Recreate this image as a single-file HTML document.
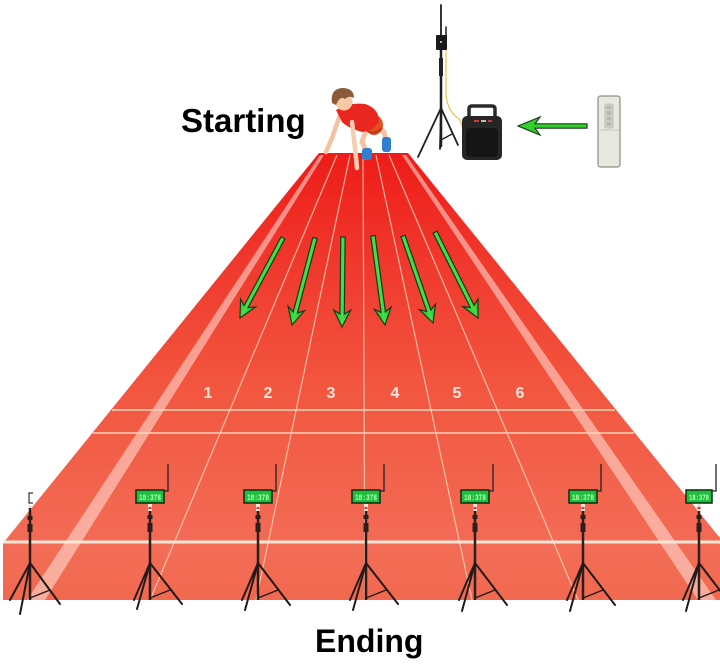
<!DOCTYPE html>
<html>
<head>
<meta charset="utf-8">
<style>
  html, body { margin: 0; padding: 0; background: #ffffff; }
  svg { display: block; }
  .lbl { font-family: "Liberation Sans", "DejaVu Sans", sans-serif; font-weight: bold; fill: #000; }
  .num { font-family: "Liberation Sans", "DejaVu Sans", sans-serif; font-weight: bold; fill: #fbe4da; font-size: 16px; }
  .disp { font-family: "Liberation Mono", "DejaVu Sans Mono", monospace; font-size: 8px; fill: #b8ffbe; font-weight: bold; }
</style>
</head>
<body>
<svg width="720" height="668" viewBox="0 0 720 668" xmlns="http://www.w3.org/2000/svg">
  <defs>
    <linearGradient id="trk" x1="0" y1="153" x2="0" y2="542" gradientUnits="userSpaceOnUse">
      <stop offset="0" stop-color="#ee1c18"/>
      <stop offset="0.3" stop-color="#f03a2e"/>
      <stop offset="0.6" stop-color="#f2563f"/>
      <stop offset="1" stop-color="#f36b55"/>
    </linearGradient>
    <linearGradient id="front" x1="0" y1="542" x2="0" y2="600" gradientUnits="userSpaceOnUse">
      <stop offset="0" stop-color="#f36d57"/>
      <stop offset="1" stop-color="#f1694f"/>
    </linearGradient>
    <linearGradient id="grn" x1="0" y1="0" x2="1" y2="0">
      <stop offset="0" stop-color="#1fb52a"/>
      <stop offset="0.5" stop-color="#46e04a"/>
      <stop offset="1" stop-color="#1fb52a"/>
    </linearGradient>
  </defs>

  <rect x="0" y="0" width="720" height="668" fill="#ffffff"/>

  <!-- Track top surface -->
  <polygon points="319,153 408,153 720,538 720,542 4,542" fill="url(#trk)"/>
  <!-- Front face -->
  <rect x="3" y="542" width="717" height="58" fill="url(#front)"/>

  <!-- Outer light stripes -->
  <polygon points="320,155 324,155 45,600 27,600" fill="#ffe4da" fill-opacity="0.55"/>
  <polygon points="402,155 406,155 716,600 698,600" fill="#ffe4da" fill-opacity="0.55"/>

  <!-- Lane lines -->
  <g stroke="#ffd8bc" stroke-opacity="0.8" stroke-width="1.2" fill="none">
    <line x1="337" y1="155" x2="150" y2="600"/>
    <line x1="350" y1="155" x2="256" y2="600"/>
    <line x1="363" y1="155" x2="365" y2="600"/>
    <line x1="376" y1="155" x2="472" y2="600"/>
    <line x1="389" y1="155" x2="578" y2="600"/>
  </g>

  <!-- Horizontal lines -->
  <line x1="112" y1="410" x2="615" y2="410" stroke="#fcd2b6" stroke-width="1.5"/>
  <line x1="93" y1="433" x2="634" y2="433" stroke="#fcd2b6" stroke-width="1.5"/>
  <line x1="3" y1="542" x2="720" y2="542" stroke="#fde6d6" stroke-width="3"/>

  <!-- Lane numbers -->
  <text class="num" x="208" y="398" text-anchor="middle">1</text>
  <text class="num" x="268" y="398" text-anchor="middle">2</text>
  <text class="num" x="331" y="398" text-anchor="middle">3</text>
  <text class="num" x="395" y="398" text-anchor="middle">4</text>
  <text class="num" x="457" y="398" text-anchor="middle">5</text>
  <text class="num" x="520" y="398" text-anchor="middle">6</text>

  <!-- Track arrows -->
  <g fill="url(#grn)" stroke="#183818" stroke-width="1.2" stroke-linejoin="miter">
    <polygon transform="translate(240,318) rotate(28.2)" points="0,0 -8.5,-17 -2.2,-13 -2.2,-91 2.2,-91 2.2,-13 8.5,-17"/>
    <polygon transform="translate(292,325) rotate(14.8)" points="0,0 -8.5,-17 -2.2,-13 -2.2,-90 2.2,-90 2.2,-13 8.5,-17"/>
    <polygon transform="translate(342,327) rotate(0.6)" points="0,0 -8.5,-17 -2.2,-13 -2.2,-90 2.2,-90 2.2,-13 8.5,-17"/>
    <polygon transform="translate(385,325) rotate(-7.7)" points="0,0 -8.5,-17 -2.2,-13 -2.2,-90 2.2,-90 2.2,-13 8.5,-17"/>
    <polygon transform="translate(433,323) rotate(-19)" points="0,0 -8.5,-17 -2.2,-13 -2.2,-92 2.2,-92 2.2,-13 8.5,-17"/>
    <polygon transform="translate(478,318) rotate(-26.6)" points="0,0 -8.5,-17 -2.2,-13 -2.2,-96 2.2,-96 2.2,-13 8.5,-17"/>
  </g>

  <!-- Runner -->
  <g>
    <!-- back leg -->
    <path d="M374,124 L384,132 L386,142" stroke="#f3c2a0" stroke-width="5" fill="none" stroke-linecap="round"/>
    <rect x="382" y="137" width="9" height="15" rx="3" fill="#2f7fd0"/>
    <!-- front leg -->
    <path d="M366,130 L362,142 L366,150" stroke="#f3c2a0" stroke-width="5" fill="none" stroke-linecap="round"/>
    <rect x="362" y="148" width="10" height="12" rx="3" fill="#2f7fd0"/>
    <!-- shorts -->
    <ellipse cx="374" cy="125" rx="9" ry="10" fill="#e2501e"/>
    <path d="M366,130 Q374,136 382,128" stroke="#c0341a" stroke-width="2" fill="none"/>
    <!-- left arm -->
    <path d="M340,115 L332,138 L326,152" stroke="#f3c2a0" stroke-width="4.5" fill="none" stroke-linecap="round"/>
    <!-- shirt -->
    <path d="M336,110 Q350,102 365,104 Q378,108 379,120 Q376,130 362,132 Q348,128 342,122 Z" fill="#ea2620"/>
    <!-- right arm -->
    <path d="M352,122 L355,148 L357,168" stroke="#f6cdb0" stroke-width="4.5" fill="none" stroke-linecap="round"/>
    <!-- head -->
    <circle cx="344" cy="102" r="8.5" fill="#f6c8a4"/>
    <path d="M332,103 Q330,89 342,88 Q354,88 354,98 Q349,95 345,99 Q340,95 336,105 Z" fill="#8a5a3a"/>
  </g>

  <!-- Top antenna tripod -->
  <g stroke="#1e1e1e" fill="none" stroke-linecap="round">
    <line x1="441" y1="5" x2="441" y2="36" stroke-width="1.8"/>
    <line x1="446" y1="27" x2="446" y2="36" stroke-width="1.5"/>
    <line x1="441" y1="50" x2="441" y2="146" stroke-width="2.5"/>
    <line x1="441" y1="108" x2="418" y2="157" stroke-width="1.8"/>
    <line x1="441" y1="108" x2="440" y2="149" stroke-width="1.8"/>
    <line x1="441" y1="108" x2="458" y2="145" stroke-width="1.8"/>
    <line x1="441" y1="140" x2="452" y2="134" stroke-width="1.3"/>
  </g>
  <rect x="439" y="58" width="4" height="18" fill="#222"/>
  <rect x="436" y="35" width="11" height="15" rx="1" fill="#1a1a1a"/>
  <circle cx="441" cy="42" r="1" fill="#ddd"/>
  <path d="M446,50 L446,95 Q448,112 458,118 Q464,124 463,140" stroke="#e6c85a" stroke-width="1.3" fill="none"/>

  <!-- Speaker -->
  <path d="M469,118 L469,109 Q469,106 472,106 L492,106 Q495,106 495,109 L495,118" stroke="#2a2a2a" stroke-width="3.5" fill="none"/>
  <rect x="462" y="116" width="40" height="44" rx="5" fill="#262626"/>
  <rect x="466" y="128" width="32" height="29" rx="4" fill="#151515"/>
  <rect x="474" y="120" width="5" height="2" fill="#d03a30"/>
  <rect x="481" y="120" width="5" height="2" fill="#bbb"/>
  <rect x="488" y="120" width="4" height="2" fill="#d03a30"/>

  <!-- Left-pointing arrow -->
  <polygon transform="translate(518,126) rotate(90)" points="0,0 -9,-22 -2.2,-17 -2.2,-69 2.2,-69 2.2,-17 9,-22" fill="#32d02a" stroke="#1d3a1a" stroke-width="1.2"/>

  <!-- Remote -->
  <rect x="598" y="96" width="22" height="71" rx="2.5" fill="#e9e8e0" stroke="#8e8e88" stroke-width="1.2"/>
  <rect x="605" y="104" width="8" height="24" rx="1.5" fill="#d4d4cc" stroke="#a8a8a0" stroke-width="0.6"/>
  <g fill="#b8b8b2">
    <rect x="606.5" y="105.5" width="5" height="4" rx="1"/>
    <rect x="606.5" y="111" width="5" height="4" rx="1"/>
    <rect x="606.5" y="116.5" width="5" height="4" rx="1"/>
    <rect x="606.5" y="122" width="5" height="4" rx="1"/>
  </g>
  <line x1="599" y1="130" x2="619" y2="130" stroke="#bdbdb5" stroke-width="0.8"/>

  <!-- Bottom tripods -->
  <g transform="translate(30,0)">
    <polyline points="3,493 -1,493 -1,503 3,503" stroke="#333" stroke-width="1.2" fill="none"/>
    <rect x="-1.5" y="505" width="3" height="5" fill="#f0e4da"/>
    <line x1="0" y1="508" x2="0" y2="600" stroke="#2b1f1d" stroke-width="2.5"/>
    <rect x="-2.5" y="516" width="5" height="4" fill="#2b1f1d"/>
    <rect x="-2.5" y="524" width="5" height="8" fill="#2b1f1d"/>
    <g stroke="#221a18" stroke-width="2" stroke-linecap="round">
      <line x1="0" y1="563" x2="-20" y2="600"/>
      <line x1="0" y1="563" x2="-10" y2="614"/>
      <line x1="0" y1="563" x2="30" y2="604"/>
      <line x1="0" y1="598" x2="20" y2="590" stroke-width="1.4"/>
    </g>
  </g>

  <g transform="translate(150,0)">
    <polyline points="13,491 18,491 18,464" stroke="#222" stroke-width="1.3" fill="none"/>
    <rect x="-14" y="490" width="28" height="13" fill="#1fbe3c" stroke="#0f2a12" stroke-width="1.5"/>
    <text class="disp" x="0" y="500" text-anchor="middle" textLength="22" lengthAdjust="spacingAndGlyphs">18:378</text>
    <rect x="-2" y="504" width="4" height="7" fill="#f0e4da"/>
    <rect x="-1.5" y="507" width="3" height="2" fill="#d33"/>
    <line x1="0" y1="511" x2="0" y2="600" stroke="#2b1f1d" stroke-width="2.5"/>
    <rect x="-2.5" y="515" width="5" height="4" fill="#2b1f1d"/>
    <rect x="-2.5" y="523" width="5" height="9" fill="#2b1f1d"/>
    <g stroke="#221a18" stroke-width="2" stroke-linecap="round">
      <line x1="0" y1="563" x2="-16" y2="600"/>
      <line x1="0" y1="563" x2="-13" y2="609"/>
      <line x1="0" y1="563" x2="32" y2="604"/>
      <line x1="0" y1="598" x2="20" y2="590" stroke-width="1.4"/>
    </g>
  </g>
  <g transform="translate(258,0)">
    <polyline points="13,491 18,491 18,464" stroke="#222" stroke-width="1.3" fill="none"/>
    <rect x="-14" y="490" width="28" height="13" fill="#1fbe3c" stroke="#0f2a12" stroke-width="1.5"/>
    <text class="disp" x="0" y="500" text-anchor="middle" textLength="22" lengthAdjust="spacingAndGlyphs">18:378</text>
    <rect x="-2" y="504" width="4" height="7" fill="#f0e4da"/>
    <rect x="-1.5" y="507" width="3" height="2" fill="#d33"/>
    <line x1="0" y1="511" x2="0" y2="600" stroke="#2b1f1d" stroke-width="2.5"/>
    <rect x="-2.5" y="515" width="5" height="4" fill="#2b1f1d"/>
    <rect x="-2.5" y="523" width="5" height="9" fill="#2b1f1d"/>
    <g stroke="#221a18" stroke-width="2" stroke-linecap="round">
      <line x1="0" y1="563" x2="-16" y2="600"/>
      <line x1="0" y1="563" x2="-13" y2="610"/>
      <line x1="0" y1="563" x2="32" y2="605"/>
      <line x1="0" y1="598" x2="20" y2="590" stroke-width="1.4"/>
    </g>
  </g>
  <g transform="translate(366,0)">
    <polyline points="13,491 18,491 18,464" stroke="#222" stroke-width="1.3" fill="none"/>
    <rect x="-14" y="490" width="28" height="13" fill="#1fbe3c" stroke="#0f2a12" stroke-width="1.5"/>
    <text class="disp" x="0" y="500" text-anchor="middle" textLength="22" lengthAdjust="spacingAndGlyphs">18:378</text>
    <rect x="-2" y="504" width="4" height="7" fill="#f0e4da"/>
    <rect x="-1.5" y="507" width="3" height="2" fill="#d33"/>
    <line x1="0" y1="511" x2="0" y2="600" stroke="#2b1f1d" stroke-width="2.5"/>
    <rect x="-2.5" y="515" width="5" height="4" fill="#2b1f1d"/>
    <rect x="-2.5" y="523" width="5" height="9" fill="#2b1f1d"/>
    <g stroke="#221a18" stroke-width="2" stroke-linecap="round">
      <line x1="0" y1="563" x2="-16" y2="600"/>
      <line x1="0" y1="563" x2="-13" y2="610"/>
      <line x1="0" y1="563" x2="32" y2="604"/>
      <line x1="0" y1="598" x2="20" y2="590" stroke-width="1.4"/>
    </g>
  </g>
  <g transform="translate(475,0)">
    <polyline points="13,491 18,491 18,464" stroke="#222" stroke-width="1.3" fill="none"/>
    <rect x="-14" y="490" width="28" height="13" fill="#1fbe3c" stroke="#0f2a12" stroke-width="1.5"/>
    <text class="disp" x="0" y="500" text-anchor="middle" textLength="22" lengthAdjust="spacingAndGlyphs">18:378</text>
    <rect x="-2" y="504" width="4" height="7" fill="#f0e4da"/>
    <rect x="-1.5" y="507" width="3" height="2" fill="#d33"/>
    <line x1="0" y1="511" x2="0" y2="600" stroke="#2b1f1d" stroke-width="2.5"/>
    <rect x="-2.5" y="515" width="5" height="4" fill="#2b1f1d"/>
    <rect x="-2.5" y="523" width="5" height="9" fill="#2b1f1d"/>
    <g stroke="#221a18" stroke-width="2" stroke-linecap="round">
      <line x1="0" y1="563" x2="-16" y2="600"/>
      <line x1="0" y1="563" x2="-13" y2="611"/>
      <line x1="0" y1="563" x2="32" y2="605"/>
      <line x1="0" y1="598" x2="20" y2="590" stroke-width="1.4"/>
    </g>
  </g>
  <g transform="translate(583,0)">
    <polyline points="13,491 18,491 18,464" stroke="#222" stroke-width="1.3" fill="none"/>
    <rect x="-14" y="490" width="28" height="13" fill="#1fbe3c" stroke="#0f2a12" stroke-width="1.5"/>
    <text class="disp" x="0" y="500" text-anchor="middle" textLength="22" lengthAdjust="spacingAndGlyphs">18:378</text>
    <rect x="-2" y="504" width="4" height="7" fill="#f0e4da"/>
    <rect x="-1.5" y="507" width="3" height="2" fill="#d33"/>
    <line x1="0" y1="511" x2="0" y2="600" stroke="#2b1f1d" stroke-width="2.5"/>
    <rect x="-2.5" y="515" width="5" height="4" fill="#2b1f1d"/>
    <rect x="-2.5" y="523" width="5" height="9" fill="#2b1f1d"/>
    <g stroke="#221a18" stroke-width="2" stroke-linecap="round">
      <line x1="0" y1="563" x2="-16" y2="600"/>
      <line x1="0" y1="563" x2="-13" y2="611"/>
      <line x1="0" y1="563" x2="32" y2="605"/>
      <line x1="0" y1="598" x2="20" y2="590" stroke-width="1.4"/>
    </g>
  </g>
  <g transform="translate(699,0)">
    <polyline points="13,491 17,491 17,464" stroke="#222" stroke-width="1.3" fill="none"/>
    <rect x="-13" y="490" width="26" height="13" fill="#1fbe3c" stroke="#0f2a12" stroke-width="1.5"/>
    <text class="disp" x="0" y="500" text-anchor="middle" textLength="20" lengthAdjust="spacingAndGlyphs">18:378</text>
    <rect x="-2" y="504" width="4" height="7" fill="#f0e4da"/>
    <rect x="-1.5" y="507" width="3" height="2" fill="#d33"/>
    <line x1="0" y1="511" x2="0" y2="600" stroke="#2b1f1d" stroke-width="2.5"/>
    <rect x="-2.5" y="515" width="5" height="4" fill="#2b1f1d"/>
    <rect x="-2.5" y="523" width="5" height="9" fill="#2b1f1d"/>
    <g stroke="#221a18" stroke-width="2" stroke-linecap="round">
      <line x1="0" y1="563" x2="-16" y2="600"/>
      <line x1="0" y1="563" x2="-13" y2="611"/>
      <line x1="0" y1="563" x2="32" y2="605"/>
      <line x1="0" y1="598" x2="20" y2="590" stroke-width="1.4"/>
    </g>
  </g>

  <!-- Labels -->
  <text class="lbl" x="181" y="132" font-size="33">Starting</text>
  <text class="lbl" x="315" y="652" font-size="32">Ending</text>
</svg>
</body>
</html>
